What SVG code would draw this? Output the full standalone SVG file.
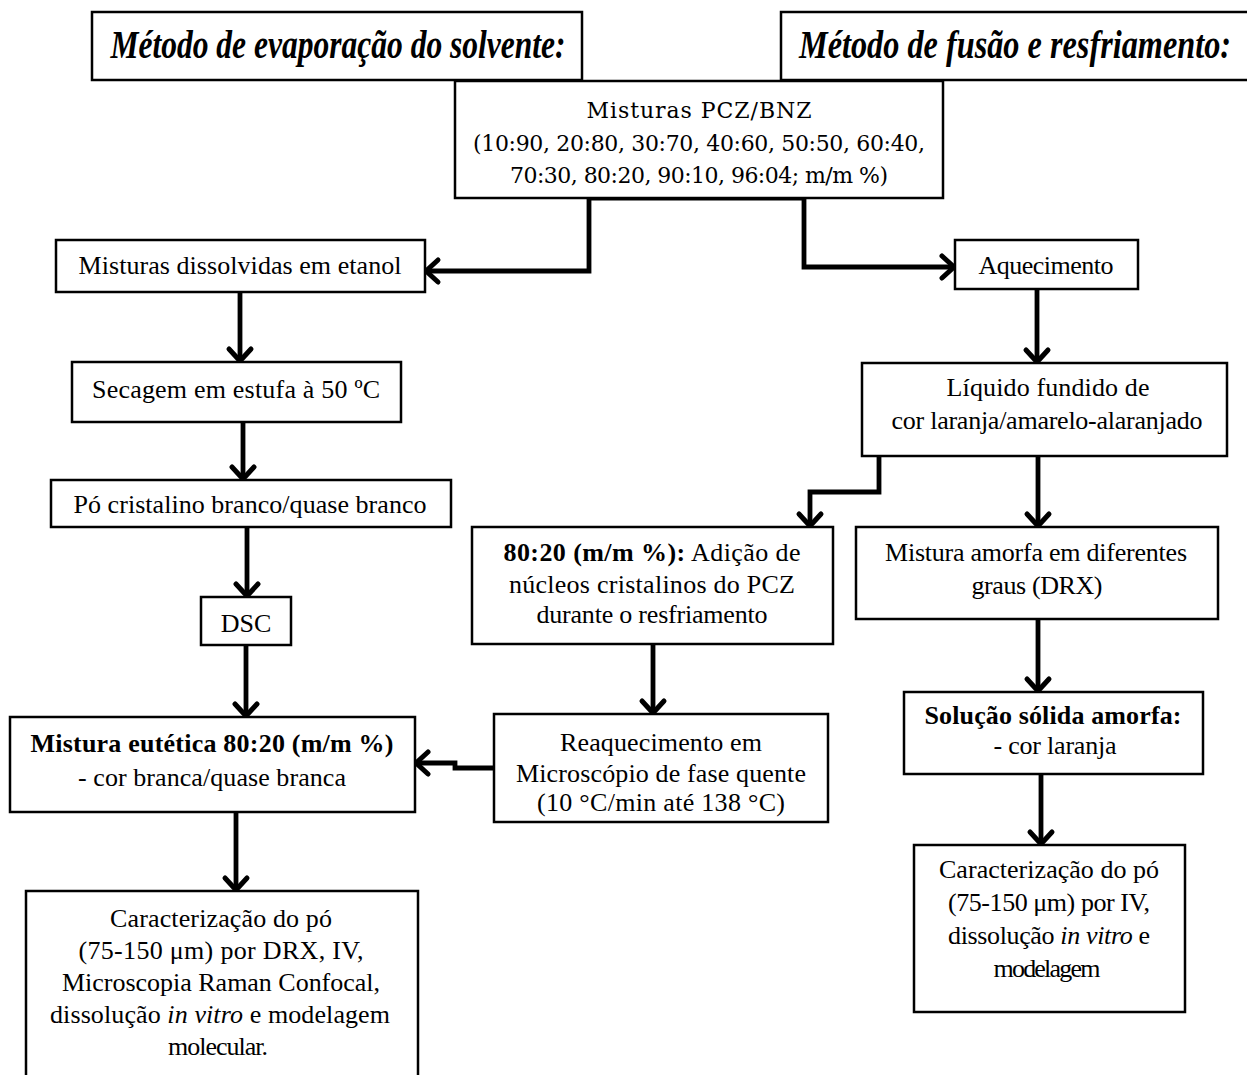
<svg xmlns="http://www.w3.org/2000/svg" width="1247" height="1075" viewBox="0 0 1247 1075">
<style>
.box{fill:#fff;stroke:#000;stroke-width:2.5}
.t{font-family:"Liberation Serif","Times New Roman",serif;font-size:26px;text-anchor:middle;fill:#000}
.b{font-weight:bold}
.i{font-style:italic}
.hdr{font-family:"Liberation Serif","Times New Roman",serif;font-weight:bold;font-style:italic;font-size:40px;text-anchor:middle;fill:#000}
.c{font-family:"DejaVu Serif",serif;font-size:22px;text-anchor:middle;fill:#000}
.conn{fill:none;stroke:#000;stroke-width:4.8;marker-end:url(#ah)}
</style>
<defs>
<marker id="ah" viewBox="-16 -14 20 28" refX="0" refY="0" markerWidth="20" markerHeight="28" markerUnits="userSpaceOnUse" orient="auto" overflow="visible">
<path d="M-11,-11 L1,0 L-11,11" fill="none" stroke="#000" stroke-width="5" stroke-linecap="round" stroke-linejoin="miter"/>
</marker>
</defs>
<rect width="1247" height="1075" fill="#fff"/>

<g id="hdr-left">
<rect class="box" x="92" y="12" width="490" height="68" stroke-width="2"/>
<text class="hdr" transform="translate(338,58) scale(0.8,1)" x="0" y="0" textLength="569" lengthAdjust="spacingAndGlyphs">Método de evaporação do solvente:</text>
</g>
<g id="hdr-right">
<rect class="box" x="781" y="12" width="480" height="68" stroke-width="2"/>
<text class="hdr" transform="translate(1015,58) scale(0.8,1)" x="0" y="0" textLength="540" lengthAdjust="spacingAndGlyphs">Método de fusão e resfriamento:</text>
</g>

<g id="connectors">
<path class="conn" d="M700,198 H589 V271 H427"/>
<path class="conn" d="M700,198 H804 V267 H953"/>
<path class="conn" d="M240,292 V360"/>
<path class="conn" d="M243,422 V478"/>
<path class="conn" d="M247,527 V595"/>
<path class="conn" d="M246,645 V715"/>
<path class="conn" d="M236,812 V889"/>
<path class="conn" d="M1037,289 V361"/>
<path class="conn" d="M879,456 V492 H810 V525"/>
<path class="conn" d="M1038,456 V525"/>
<path class="conn" d="M653,644 V712"/>
<path class="conn" d="M494,768 H455 V763 H417"/>
<path class="conn" d="M1038,619 V690"/>
<path class="conn" d="M1041,774 V843"/>
</g>

<g id="top">
<rect class="box" x="455" y="81" width="488" height="117"/>
<text class="c" x="699" y="118" textLength="225">Misturas PCZ/BNZ</text>
<text class="c" x="699" y="151" textLength="452">(10:90, 20:80, 30:70, 40:60, 50:50, 60:40,</text>
<text class="c" x="699" y="183" textLength="378">70:30, 80:20, 90:10, 96:04; m/m %)</text>
</g>

<g id="dissolvidas">
<rect class="box" x="56" y="240" width="369" height="52"/>
<text class="t" x="240" y="274" textLength="323">Misturas dissolvidas em etanol</text>
</g>
<g id="secagem">
<rect class="box" x="72" y="362" width="329" height="60"/>
<text class="t" x="236" y="398" textLength="288">Secagem em estufa à 50 ºC</text>
</g>
<g id="po">
<rect class="box" x="51" y="480" width="400" height="47"/>
<text class="t" x="250" y="513" textLength="353">Pó cristalino branco/quase branco</text>
</g>
<g id="dsc">
<rect class="box" x="201" y="597" width="90" height="48"/>
<text class="t" x="246" y="632">DSC</text>
</g>
<g id="eutetica">
<rect class="box" x="10" y="717" width="405" height="95"/>
<text class="t b" x="212" y="752" textLength="363">Mistura eutética 80:20 (m/m %)</text>
<text class="t" x="212" y="786" textLength="268">- cor branca/quase branca</text>
</g>
<g id="carac-left">
<rect class="box" x="26" y="891" width="392" height="200"/>
<text class="t" x="221" y="927" textLength="222">Caracterização do pó</text>
<text class="t" x="221" y="959" textLength="285">(75-150 μm) por DRX, IV,</text>
<text class="t" x="221" y="991" textLength="318">Microscopia Raman Confocal,</text>
<text class="t" x="220" y="1023" textLength="340">dissolução <tspan class="i">in vitro</tspan> e modelagem</text>
<text class="t" x="218" y="1055" textLength="100">molecular.</text>
</g>

<g id="nucleos">
<rect class="box" x="472" y="527" width="361" height="117"/>
<text class="t" x="652" y="561" textLength="297"><tspan class="b">80:20 (m/m %):</tspan> Adição de</text>
<text class="t" x="652" y="593" textLength="286">núcleos cristalinos do PCZ</text>
<text class="t" x="652" y="623" textLength="231">durante o resfriamento</text>
</g>
<g id="reaquecimento">
<rect class="box" x="494" y="714" width="334" height="108"/>
<text class="t" x="661" y="751" textLength="202">Reaquecimento em</text>
<text class="t" x="661" y="782" textLength="290">Microscópio de fase quente</text>
<text class="t" x="661" y="811" textLength="248">(10 °C/min até 138 °C)</text>
</g>

<g id="aquecimento">
<rect class="box" x="955" y="240" width="183" height="49"/>
<text class="t" x="1046" y="274" textLength="135">Aquecimento</text>
</g>
<g id="liquido">
<rect class="box" x="862" y="363" width="365" height="93"/>
<text class="t" x="1048" y="396" textLength="203">Líquido fundido de</text>
<text class="t" x="1047" y="429" textLength="311">cor laranja/amarelo-alaranjado</text>
</g>
<g id="amorfa">
<rect class="box" x="856" y="527" width="362" height="92"/>
<text class="t" x="1036" y="561" textLength="302">Mistura amorfa em diferentes</text>
<text class="t" x="1037" y="594" textLength="131">graus (DRX)</text>
</g>
<g id="solucao">
<rect class="box" x="904" y="692" width="299" height="82"/>
<text class="t b" x="1053" y="724" textLength="257">Solução sólida amorfa:</text>
<text class="t" x="1055" y="754" textLength="123">- cor laranja</text>
</g>
<g id="carac-right">
<rect class="box" x="914" y="845" width="271" height="167"/>
<text class="t" x="1049" y="878" textLength="220">Caracterização do pó</text>
<text class="t" x="1049" y="911" textLength="202">(75-150 μm) por IV,</text>
<text class="t" x="1049" y="944" textLength="202">dissolução <tspan class="i">in vitro</tspan> e</text>
<text class="t" x="1047" y="977" textLength="107">modelagem</text>
</g>
</svg>
